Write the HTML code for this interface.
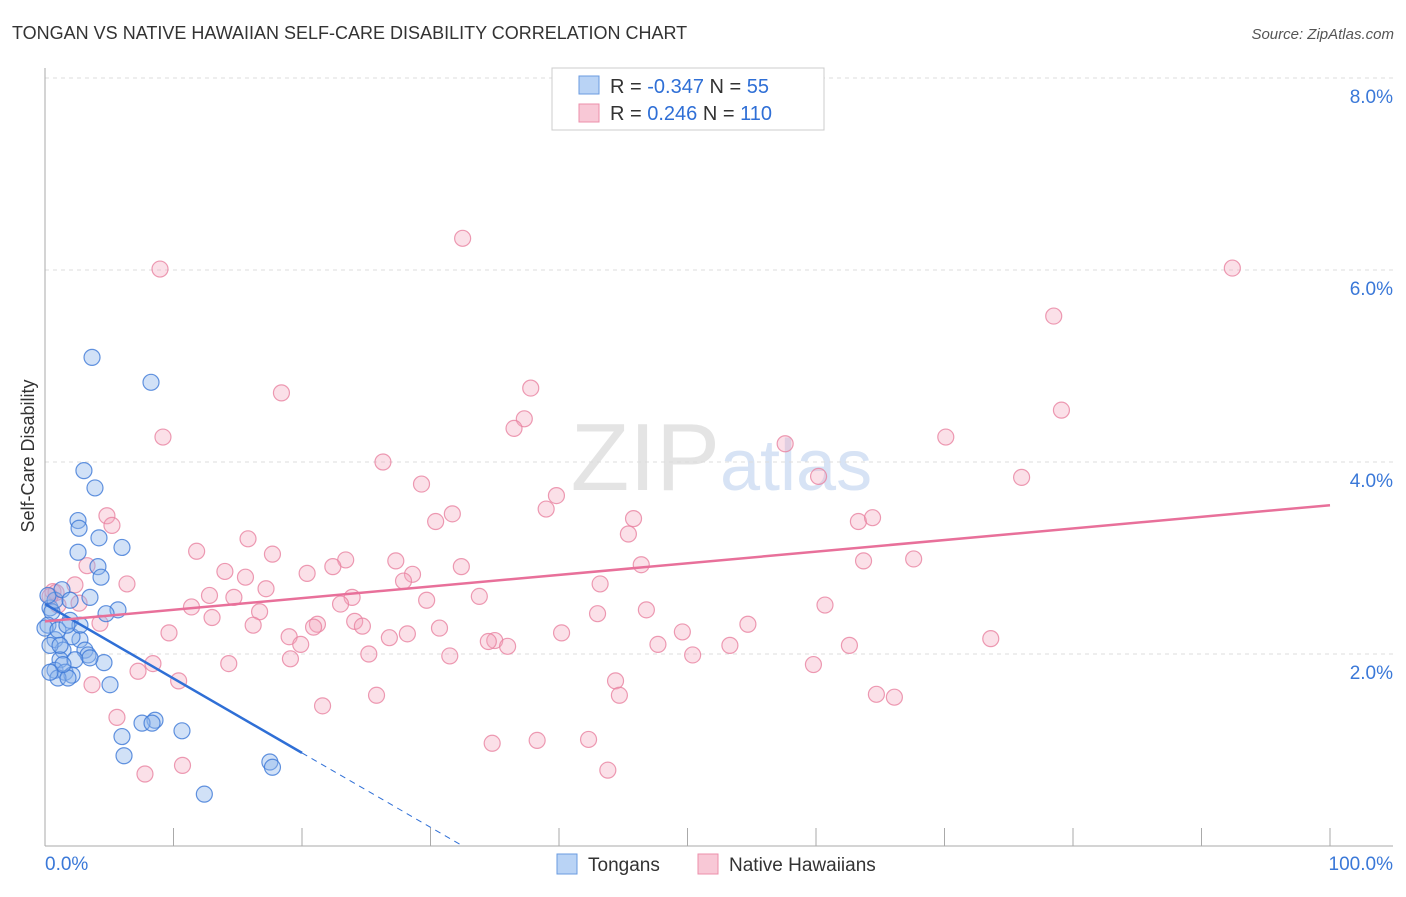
<!DOCTYPE html>
<html><head><meta charset="utf-8"><style>
body{margin:0;background:#fff;font-family:"Liberation Sans",sans-serif}
svg text{font-family:"Liberation Sans",sans-serif}
</style></head><body>
<svg id="c" width="1406" height="892" xmlns="http://www.w3.org/2000/svg">
<text x="12" y="39" font-size="18" fill="#333">TONGAN VS NATIVE HAWAIIAN SELF-CARE DISABILITY CORRELATION CHART</text>
<text x="1394" y="39" font-size="15" fill="#555" font-style="italic" text-anchor="end">Source: ZipAtlas.com</text>
<text x="720" y="490" font-size="96" fill="#e4e4e4" text-anchor="end" font-family="Liberation Serif">ZIP</text>
<text x="720" y="490" font-size="72" fill="#d7e3f5">atlas</text>
<text x="34" y="456" font-size="18" fill="#333" text-anchor="middle" transform="rotate(-90 34 456)">Self-Care Disability</text>
<g id="grid"></g><g id="pts"></g><g id="trend"></g>
<rect x="552" y="68" width="272" height="62" fill="#fff" stroke="#ccc"/>
<rect x="579" y="76" width="20" height="18" fill="#b9d3f5" stroke="#6a9be0"/>
<rect x="579" y="104" width="20" height="18" fill="#f8c8d6" stroke="#ec8fab"/>
<text x="610" y="93" font-size="20" fill="#333">R = <tspan fill="#2f6fd6">-0.347</tspan>   N =  <tspan fill="#2f6fd6">55</tspan></text>
<text x="610" y="120" font-size="20" fill="#333">R =  <tspan fill="#2f6fd6"> 0.246</tspan>   N = <tspan fill="#2f6fd6">110</tspan></text>
<rect x="557" y="854" width="20" height="20" fill="#b9d3f5" stroke="#6a9be0"/>
<text x="588" y="871" font-size="19" fill="#333">Tongans</text>
<rect x="698" y="854" width="20" height="20" fill="#f8c8d6" stroke="#ec8fab"/>
<text x="729" y="871" font-size="19" fill="#333">Native Hawaiians</text>
</svg>
<script>
const yTicks=[2,4,6,8];
const xTickLabels=["0.0%","100.0%"];
const blueX=[3.66,8.25,3.03,3.89,2.57,2.65,4.20,5.99,2.57,4.12,4.36,3.50,5.68,4.75,0.39,0.54,0.23,1.95,0.78,2.72,2.10,1.40,3.11,3.35,1.17,2.33,4.59,0.78,1.56,2.10,1.01,1.79,5.06,1.40,0.39,0,8.56,7.55,8.33,10.66,5.99,6.15,17.5,17.7,12.4,0.78,1.32,0.23,1.95,1.01,2.72,1.71,1.17,3.50,0.39];
const blueY=[5.09,4.83,3.91,3.73,3.39,3.31,3.21,3.11,3.06,2.91,2.80,2.59,2.46,2.42,2.48,2.44,2.30,2.35,2.15,2.15,2.18,2.04,2.04,1.99,1.94,1.94,1.91,1.83,1.81,1.78,1.75,1.75,1.68,1.89,2.09,2.27,1.31,1.28,1.28,1.20,1.14,0.94,0.875,0.82,0.54,2.56,2.67,2.61,2.56,2.25,2.30,2.30,2.09,1.96,1.81];
const pinkX=[32.5,8.95,92.4,78.5,18.4,37.8,79.1,9.18,37.3,36.5,57.6,70.1,26.3,60.2,29.3,76.0,39.8,39.0,31.7,30.4,45.8,63.3,64.4,45.4,4.82,5.21,15.8,11.8,17.7,23.4,27.3,63.7,67.6,32.4,46.4,3.27,14.0,20.4,22.4,28.6,27.9,6.38,2.33,17.2,15.6,43.2,0.62,14.7,12.8,1.01,2.65,33.8,29.7,23.9,11.4,23.0,60.7,46.8,43.0,16.7,13.0,24.1,4.28,21.2,20.9,16.2,54.7,9.65,24.7,30.7,49.6,28.2,40.2,26.8,19.0,35.0,34.5,36.0,19.9,73.6,47.7,62.6,53.3,50.4,25.2,31.5,19.1,14.3,8.40,59.8,7.24,10.4,3.66,44.4,64.7,66.1,25.8,44.7,21.6,5.60,38.3,34.8,42.3,10.7,43.8,7.78,0.86,0.39];
const pinkY=[6.33,6.01,6.02,5.52,4.72,4.77,4.54,4.26,4.45,4.35,4.19,4.26,4.0,3.85,3.77,3.84,3.65,3.51,3.46,3.38,3.41,3.38,3.42,3.25,3.44,3.34,3.20,3.07,3.04,2.98,2.97,2.97,2.99,2.91,2.93,2.92,2.86,2.84,2.91,2.83,2.76,2.73,2.72,2.68,2.80,2.73,2.65,2.59,2.61,2.51,2.53,2.60,2.56,2.59,2.49,2.52,2.51,2.46,2.42,2.44,2.38,2.34,2.32,2.31,2.28,2.30,2.31,2.22,2.29,2.27,2.23,2.21,2.22,2.17,2.18,2.14,2.13,2.08,2.10,2.16,2.10,2.09,2.09,1.99,2.0,1.98,1.95,1.90,1.90,1.89,1.82,1.72,1.68,1.72,1.58,1.55,1.57,1.57,1.46,1.34,1.10,1.07,1.11,0.84,0.79,0.75,2.64,2.60];
const blueTrend=[2.52,-0.0775]; // intercept, slope
const pinkTrend=[2.34,0.0121];
const X=v=>45+v*12.85, Y=v=>846-v*96;
const NS="http://www.w3.org/2000/svg";
function mk(t,a,p){const e=document.createElementNS(NS,t);for(const k in a)e.setAttribute(k,a[k]);p.appendChild(e);return e;}
const g=document.getElementById('grid');
for(const t of yTicks){
 const l=mk('line',{x1:45,x2:1393,y1:Y(t),y2:Y(t),stroke:'#ddd','stroke-dasharray':'4,4'},g);
 
 
 const tx=mk('text',{x:1393,y:Y(t)+25,'font-size':19,fill:'#3a78d8','text-anchor':'end'},g);
 tx.textContent=t.toFixed(1)+'%';
 
 
}
const ax=mk('line',{x1:45,x2:45,y1:68,y2:846,stroke:'#aaa'},g);


const bx=mk('line',{x1:45,x2:1393,y1:846,y2:846,stroke:'#aaa'},g);


for(let i=0;i<=10;i++){
 const t=mk('line',{x1:X(i*10),x2:X(i*10),y1:828,y2:846,stroke:'#aaa'},g);
 
 
}
[[0,'start',45],[1,'end',1393]].forEach(([i,a,x])=>{
 const t=mk('text',{x:x,y:870,'font-size':19,fill:'#3a78d8','text-anchor':a},g);
 t.textContent=xTickLabels[i];
 
 
});
const p=document.getElementById('pts');
pinkX.forEach((x,i)=>{
 const c=mk('circle',{cx:X(x),cy:Y(pinkY[i]),r:8,fill:'rgba(243,166,190,0.35)',stroke:'rgba(232,130,160,0.8)','stroke-width':1.2},p);
 
 
});
blueX.forEach((x,i)=>{
 const c=mk('circle',{cx:X(x),cy:Y(blueY[i]),r:8,fill:'rgba(140,180,235,0.4)',stroke:'rgba(60,120,215,0.8)','stroke-width':1.2},p);
 
 
});
const tr=document.getElementById('trend');
const bl=mk('line',{x1:X(0),y1:Y(blueTrend[0]),x2:X(20),y2:Y(blueTrend[0]+blueTrend[1]*20),stroke:'#2f6fd6','stroke-width':2.5},tr);


const xe=-blueTrend[0]/blueTrend[1];
const bd=mk('line',{x1:X(20),y1:Y(blueTrend[0]+blueTrend[1]*20),x2:X(xe),y2:Y(0),stroke:'#2f6fd6','stroke-width':1,'stroke-dasharray':'6,5'},tr);


const pl=mk('line',{x1:X(0),y1:Y(pinkTrend[0]),x2:X(100),y2:Y(pinkTrend[0]+pinkTrend[1]*100),stroke:'#e8709a','stroke-width':2.5},tr);


</script>
</body></html>
